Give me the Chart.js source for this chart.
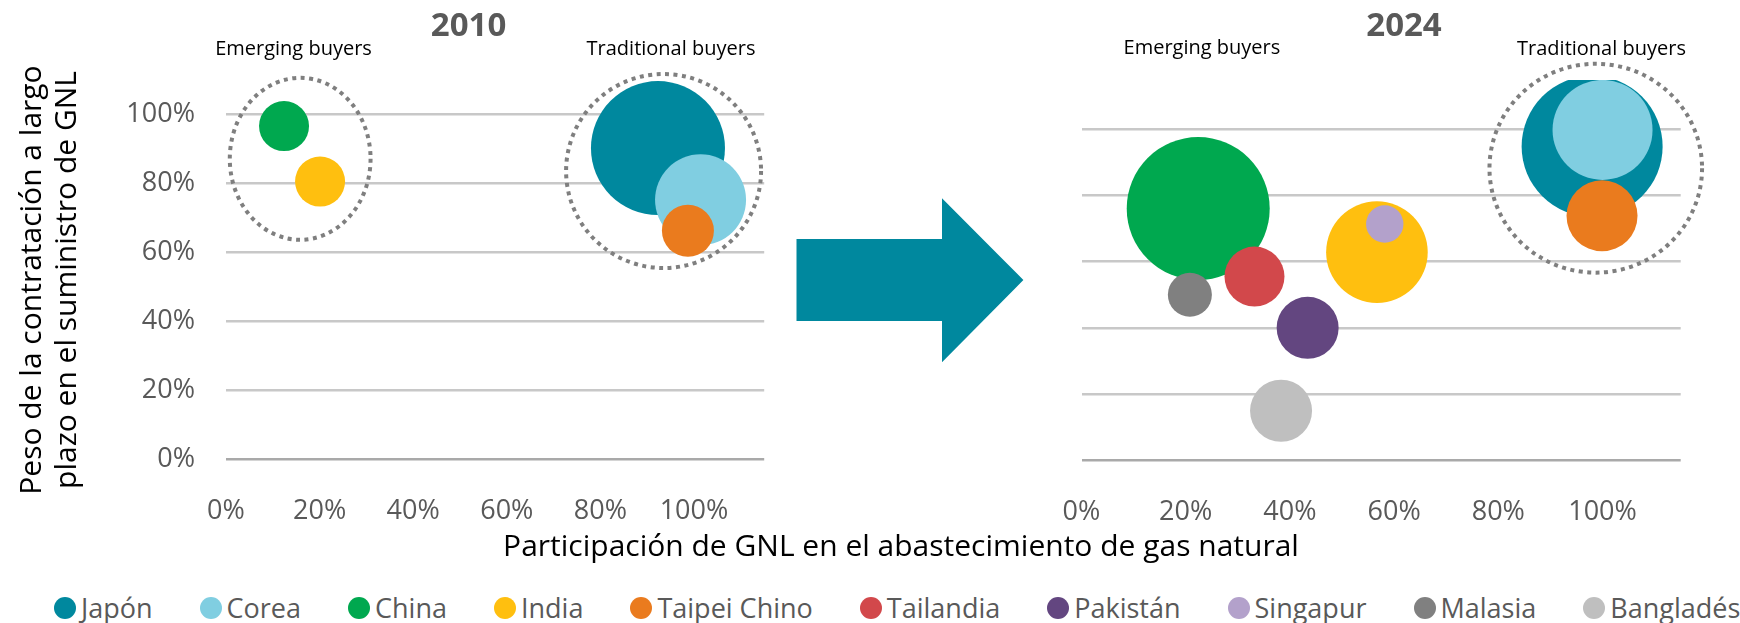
<!DOCTYPE html>
<html lang="es">
<head>
<meta charset="utf-8">
<title>GNL: compradores emergentes y tradicionales</title>
<script src="https://cdn.jsdelivr.net/npm/chart.js@4.4.1/dist/chart.umd.min.js"></script>
<style>
  html, body { margin: 0; padding: 0; background: #fff; }
  body { width: 1740px; height: 623px; position: relative; overflow: hidden; font-family: "Open Sans", sans-serif; }
  canvas { position: absolute; top: 0; }
  .txt { position: absolute; white-space: nowrap; transform: translateX(-50%); }
  #ytitle { position: absolute; width: 480px; height: 70px; font-size: 30px; line-height: 35px; text-align: center; color: #000; white-space: nowrap; transform: rotate(-90deg); }
  #legend { position: absolute; left: 54px; top: 592px; display: flex; gap: 47px; font-size: 27px; line-height: 31px; color: #595959; white-space: nowrap; width: max-content; }
  #legend .item { display: flex; align-items: center; gap: 5px; }
  #legend .dot { width: 22px; height: 22px; border-radius: 50%; flex: none; }
</style>
</head>
<body>
<svg width="1740" height="623" style="position:absolute;left:0;top:0">
  <polygon points="796.5,239 942,239 942,198.3 1023.4,280 942,362.3 942,321 796.5,321" fill="#00889e"/>
</svg>
<canvas id="chart2010" width="780" height="530" style="left:0"></canvas>
<canvas id="chart2024" width="960" height="530" style="left:780px"></canvas>
<div id="ytitle">Peso de la contratación a largo<br>plazo en el suministro de GNL</div>
<div id="legend"></div>
<script>
const categories = ['Japón', 'Corea', 'China', 'India', 'Taipei Chino', 'Tailandia', 'Pakistán', 'Singapur', 'Malasia', 'Bangladés'];
const colors = ['#00889e', '#80cee1', '#00a84f', '#ffbf0f', '#ea7b1e', '#d2484b', '#634680', '#b3a1cb', '#808080', '#bfbfbf'];

// 2010: share of LNG in gas supply (x), long-term contract share (y), bubble size (px radius)
const lngShare2010 = [0.923, 1.014, 0.124, 0.201, 0.987, null, null, null, null, null];
const longTerm2010 = [0.903, 0.753, 0.967, 0.806, 0.663, null, null, null, null, null];
const size2010 = [67, 45.5, 25, 25, 26, null, null, null, null, null];

// 2024
const lngShare2024 = [0.980, 1.000, 0.224, 0.567, 0.999, 0.332, 0.434, 0.582, 0.208, 0.383];
const longTerm2024 = [0.949, 0.999, 0.761, 0.629, 0.739, 0.555, 0.400, 0.714, 0.500, 0.149];
const size2024 = [70.5, 50, 71.5, 50.8, 35.5, 30, 31, 18.7, 22, 31];

const axisTicks = [0, 0.2, 0.4, 0.6, 0.8, 1.0];

// dotted group outlines, in data units: [cx, cy, rx, ry]
const groups2010 = [[0.1585, 0.872, 0.1504, 0.235], [0.935, 0.8366, 0.2083, 0.2815]];
const groups2024 = [[0.987, 0.883, 0.204, 0.316]];

const tickFont = { family: 'Open Sans', size: 27 };
const tickColor = '#595959';

function pct(value) {
    return Math.round(value * 100) + '%';
}

function buildDatasets(xs, ys, sizes) {
    const sets = [];
    categories.forEach((name, i) => {
        if (xs[i] == null) return;
        sets.push({
            label: name,
            data: [{ x: xs[i], y: ys[i], r: sizes[i] }],
            backgroundColor: colors[i],
            borderWidth: 0,
            hoverRadius: 0,
            clip: 0,
            order: categories.length - i
        });
    });
    return sets;
}

const groupOutline = {
    id: 'groupOutline',
    afterDatasetsDraw(chart, args, opts) {
        const { ctx, scales: { x, y } } = chart;
        ctx.save();
        ctx.strokeStyle = '#7f7f7f';
        ctx.lineWidth = 4;
        ctx.setLineDash([4, 4.5]);
        (opts.shapes || []).forEach(([cx, cy, rx, ry]) => {
            const px = x.getPixelForValue(cx);
            const py = y.getPixelForValue(cy);
            const prx = Math.abs(x.getPixelForValue(cx + rx) - px);
            const pry = Math.abs(y.getPixelForValue(cy + ry) - py);
            ctx.beginPath();
            ctx.ellipse(px, py, prx, pry, 0, 0, Math.PI * 2);
            ctx.stroke();
        });
        ctx.restore();
    }
};

function makeChart(id, datasets, shapes, area, showYTicks) {
    const canvas = document.getElementById(id);
    return new Chart(canvas, {
        type: 'bubble',
        data: { datasets },
        plugins: [groupOutline],
        options: {
            responsive: false,
            animation: false,
            devicePixelRatio: 1,
            events: [],
            layout: {
                autoPadding: false,
                padding: { top: area.top, right: canvas.width - area.right, left: 0, bottom: 0 }
            },
            plugins: {
                legend: { display: false },
                tooltip: { enabled: false },
                groupOutline: { shapes }
            },
            scales: {
                x: {
                    type: 'linear',
                    min: 0,
                    max: 1.15,
                    afterBuildTicks: (scale) => { scale.ticks = axisTicks.map((v) => ({ value: v })); },
                    ticks: { callback: pct, font: tickFont, color: tickColor, padding: 28, maxRotation: 0 },
                    grid: { display: false },
                    border: { display: false },
                    afterFit: (scale) => {
                        scale.height = canvas.height - area.bottom;
                        scale.paddingLeft = 0;
                        scale.paddingRight = 0;
                    }
                },
                y: {
                    type: 'linear',
                    min: 0,
                    max: 1.15,
                    afterBuildTicks: (scale) => { scale.ticks = axisTicks.map((v) => ({ value: v })); },
                    ticks: { display: showYTicks, callback: pct, font: tickFont, color: tickColor, padding: 31 },
                    grid: {
                        drawTicks: false,
                        lineWidth: 2.5,
                        color: (c) => (c.tick && c.tick.value === 0 ? '#a9a9a9' : '#c8c8c8')
                    },
                    border: { display: false },
                    afterFit: (scale) => {
                        scale.width = area.left;
                        scale.paddingTop = 0;
                        scale.paddingBottom = 0;
                    }
                }
            }
        }
    });
}

makeChart('chart2010', buildDatasets(lngShare2010, longTerm2010, size2010), groups2010,
    { left: 226, right: 764.2, top: 63, bottom: 459.3 }, true);
makeChart('chart2024', buildDatasets(lngShare2024, longTerm2024, size2024), groups2024,
    { left: 301.5, right: 900.7, top: 80, bottom: 460 }, false);

// text placed by baseline (Open Sans metrics, line-height = font size)
function addText(text, cx, baseline, size, weight, color) {
    const el = document.createElement('div');
    el.className = 'txt';
    el.textContent = text;
    el.style.left = cx + 'px';
    el.style.top = (baseline - 0.888 * size) + 'px';
    el.style.fontSize = size + 'px';
    el.style.lineHeight = size + 'px';
    el.style.fontWeight = weight;
    el.style.color = color;
    document.body.appendChild(el);
}

addText('2010', 468.6, 36.7, 33, 700, '#595959');
addText('2024', 1404, 36.7, 33, 700, '#595959');
addText('Emerging buyers', 293.5, 56, 20, 400, '#000');
addText('Traditional buyers', 671, 56, 20, 400, '#000');
addText('Emerging buyers', 1201.9, 54.3, 20, 400, '#000');
addText('Traditional buyers', 1601.5, 56, 20, 400, '#000');
addText('Participación de GNL en el abastecimiento de gas natural', 901, 556.7, 30, 400, '#000');

const yTitle = document.getElementById('ytitle');
yTitle.style.left = (47 - 240) + 'px';
yTitle.style.top = (280 - 35) + 'px';

const legend = document.getElementById('legend');
categories.forEach((name, i) => {
    const item = document.createElement('div');
    item.className = 'item';
    const dot = document.createElement('span');
    dot.className = 'dot';
    dot.style.background = colors[i];
    const label = document.createElement('span');
    label.textContent = name;
    item.appendChild(dot);
    item.appendChild(label);
    legend.appendChild(item);
});
</script>
</body>
</html>
